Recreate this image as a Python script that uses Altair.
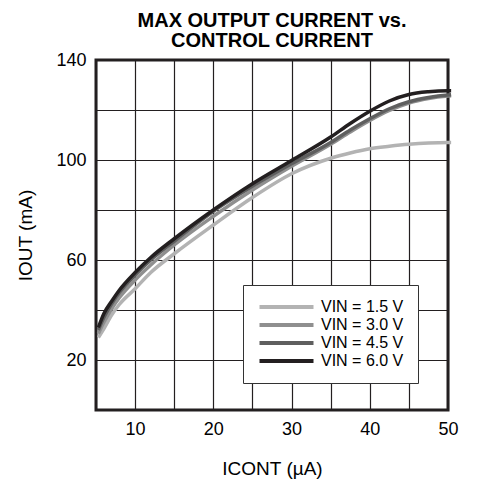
import altair as alt
import pandas as pd

# I_CONT (µA) sample positions
icont = [5.3, 6, 7, 8, 10, 12, 15, 20, 25, 30, 35, 37.5, 40, 42.5, 45, 47.5, 50, 50.4]

# I_OUT (mA) for each supply voltage
iout_v15 = [29, 32.5, 38, 42.3, 48.5, 55, 62.5, 74, 85, 94.5, 100.7, 102.8, 104.5, 105.5, 106.3, 106.8, 107, 107]
iout_v30 = [30.5, 35, 40.5, 45, 52, 58, 66, 77.5, 88, 97.5, 106.3, 111.2, 115.8, 119.8, 122.8, 124.6, 125.6, 125.7]
iout_v45 = [32, 37, 42.5, 47, 54, 60, 67.5, 79.5, 89.5, 98.5, 107, 112, 116.5, 120.5, 123.3, 125, 126, 126.1]
iout_v60 = [33, 38.5, 43.5, 48, 55, 61, 68.5, 80, 90.5, 99.8, 109.2, 114.6, 119.5, 123.6, 126.2, 127.3, 127.7, 127.7]

series_labels = ["VIN = 1.5 V", "VIN = 3.0 V", "VIN = 4.5 V", "VIN = 6.0 V"]
series_colors = ["#b3b3b3", "#8f8f8f", "#5f5f5f", "#231f20"]

x_ticks = [5, 10, 15, 20, 25, 30, 35, 40, 45, 50]
y_ticks = [0, 20, 40, 60, 80, 100, 120, 140]

rows = []
for lab, vals in zip(series_labels, [iout_v15, iout_v30, iout_v45, iout_v60]):
    for xv, yv in zip(icont, vals):
        rows.append({"series": lab, "icont": xv, "iout": yv})
df = pd.DataFrame(rows)

FONT = "Liberation Sans"

chart = (
    alt.Chart(df)
    .mark_line(interpolate="monotone", strokeWidth=3.5, clip=False)
    .encode(
        x=alt.X(
            "icont:Q",
            scale=alt.Scale(domain=[5, 50], nice=False, zero=False),
            axis=alt.Axis(
                values=x_ticks,
                labelExpr="datum.value % 10 == 0 ? datum.label : ''",
                title="ICONT (µA)",
                ticks=False,
                domain=False,
                labelPadding=10,
                titlePadding=21,
                labelFlush=False,
                labelOverlap=False,
            ),
        ),
        y=alt.Y(
            "iout:Q",
            scale=alt.Scale(domain=[0, 140], nice=False),
            axis=alt.Axis(
                values=y_ticks,
                labelExpr="datum.value % 40 == 20 ? datum.label : ''",
                title="IOUT (mA)",
                ticks=False,
                domain=False,
                labelPadding=10,
                titlePadding=20,
                labelFlush=False,
                labelOverlap=False,
            ),
        ),
        color=alt.Color(
            "series:N",
            sort=series_labels,
            scale=alt.Scale(domain=series_labels, range=series_colors),
            legend=alt.Legend(
                title=None,
                orient="none",
                legendX=147,
                legendY=225,
                fillColor="white",
                strokeColor="#333333",
                padding=14,
                symbolType="M-1,0H8.818",
                symbolSize=121,
                symbolStrokeWidth=4,
                labelOffset=48,
                labelFontSize=16,
                labelFont=FONT,
                labelColor="black",
                labelExpr="datum.label + '\u00a0\u00a0\u00a0\u00a0\u00a0'",
                rowPadding=2,
            ),
        ),
    )
    .properties(
        width=352,
        height=350,
        title=alt.TitleParams(
            text=["MAX OUTPUT CURRENT vs.", "CONTROL CURRENT"],
            fontSize=20,
            fontWeight="bold",
            font=FONT,
            lineHeight=20.5,
            anchor="middle",
            offset=0,
            color="black",
        ),
        autosize=alt.AutoSizeParams(type="none"),
        padding={"left": 88, "top": 52, "right": 22, "bottom": 72},
    )
    .configure_view(stroke="#231f20", strokeWidth=3)
    .configure_axis(
        grid=True,
        gridColor="#231f20",
        gridOpacity=1,
        gridWidth=1.2,
        labelColor="black",
        titleColor="black",
        labelFont=FONT,
        titleFont=FONT,
        labelFontSize=18,
        titleFontSize=19,
        titleFontWeight="normal",
    )
)

chart.save("out.html", embed_options={"renderer": "svg", "actions": False})
